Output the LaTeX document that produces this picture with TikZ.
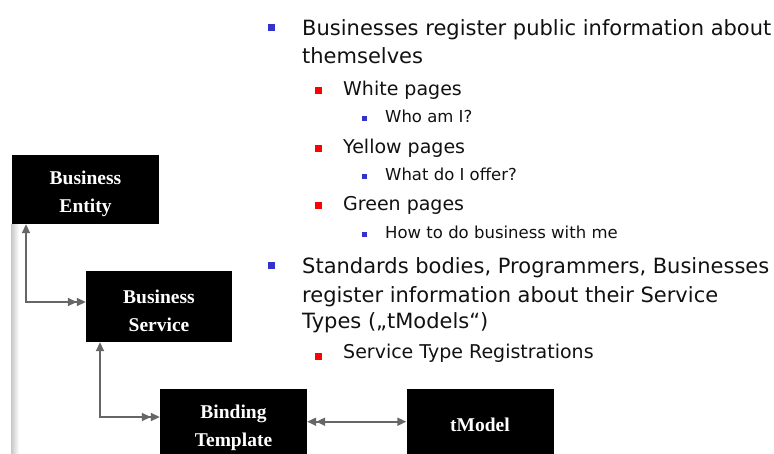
\documentclass[tikz,border=0pt]{standalone}
\usepackage{fontspec}
\setmainfont{DejaVu Sans}
\newfontfamily\boxfont{Liberation Serif}
\usetikzlibrary{arrows.meta,calc}
\definecolor{bulblue}{HTML}{3333CC}
\definecolor{bulred}{HTML}{FF0000}
\definecolor{conngray}{HTML}{666666}
\definecolor{txt}{HTML}{111111}
\newcommand{\topstrut}{\rule{0pt}{22pt}}
\tikzset{
  ubox/.style={fill=black,draw=none,text=white,align=center,inner sep=0pt,
    font=\boxfont\bfseries\fontsize{19.5}{28}\selectfont},
  conn/.style={draw=conngray,line width=1.8pt},
  tipA/.tip={Triangle[length=9pt,width=8pt]},
  lone/.style={anchor=base west,inner sep=0pt,text=txt,font=\fontsize{21}{28}\selectfont},
  ltwo/.style={anchor=base west,inner sep=0pt,text=txt,font=\fontsize{19}{26}\selectfont},
  lthree/.style={anchor=base west,inner sep=0pt,text=txt,font=\fontsize{16.5}{20}\selectfont},
  bone/.style={fill=bulblue,draw=none,minimum size=7pt,inner sep=0pt},
  btwo/.style={fill=bulred,draw=none,minimum size=7pt,inner sep=0pt},
  bthree/.style={fill=bulblue,draw=none,minimum size=5pt,inner sep=0pt},
}
\begin{document}
\begin{tikzpicture}[x=1pt,y=-1pt]
\useasboundingbox (0,0) rectangle (774,453);
\begin{scope}
\clip (0,0) rectangle (774,453);
% left shadow stripe
\shade[left color=black!22,right color=white] (11,224) rectangle (19,453);
% boxes
\node[ubox,minimum width=147pt,minimum height=69pt] (be) at (85.5,189.5) {\topstrut Business\\Entity};
\node[ubox,minimum width=146pt,minimum height=71pt] (bs) at (159,306.5) {\topstrut Business\\Service};
\node[ubox,minimum width=147pt,minimum height=70pt] (bt) at (233.5,424) {\topstrut Binding\\Template};
\node[ubox,minimum width=147pt,minimum height=70pt] (tm) at (480,424) {\rule{0pt}{16pt}tModel};
% connectors
\coordinate (c1) at (26,302);
\coordinate (c2) at (100,417);
\draw[conn,{tipA[]}-{tipA[]tipA[]}]
  (be.south -| c1) -- (c1) -- (c1 -| bs.west);
\draw[conn,{tipA[]}-{tipA[]tipA[]}]
  (bs.south -| c2) -- (c2) -- (c2 -| bt.west);
\coordinate (c3) at (350,421.7);
\draw[conn,{tipA[]tipA[]}-{tipA[]}]
  (c3 -| bt.east) -- (c3 -| tm.west);
\end{scope}
% bullet list
\node[bone] (b1) at (271,27.5) {};
\node[lone] (t1a) at (302,35) {Businesses register public information about};
\node[lone] (t1b) at (302,63) {themselves};
\node[btwo] (b2) at (318,90.5) {};
\node[ltwo] (t2) at (343,95) {White pages};
\node[bthree] (b3) at (364.5,118.5) {};
\node[lthree] (t3) at (385,122) {Who am I?};
\node[btwo] (b4) at (318,148.5) {};
\node[ltwo] (t4) at (343,153) {Yellow pages};
\node[bthree] (b5) at (364.5,176.5) {};
\node[lthree] (t5) at (385,180) {What do I offer?};
\node[btwo] (b6) at (318,205.5) {};
\node[ltwo] (t6) at (343,210) {Green pages};
\node[bthree] (b7) at (364.5,234) {};
\node[lthree] (t7) at (385,238) {How to do business with me};
\node[bone] (b8) at (271,265.5) {};
\node[lone] (t8a) at (302,273) {Standards bodies, Programmers, Businesses};
\node[lone] (t8b) at (302,302) {register information about their Service};
\node[lone] (t8c) at (302,328) {Types („tModels“)};
\node[btwo] (b9) at (318,356.5) {};
\node[ltwo] (t9) at (343,358) {Service Type Registrations};
\end{tikzpicture}
\end{document}
